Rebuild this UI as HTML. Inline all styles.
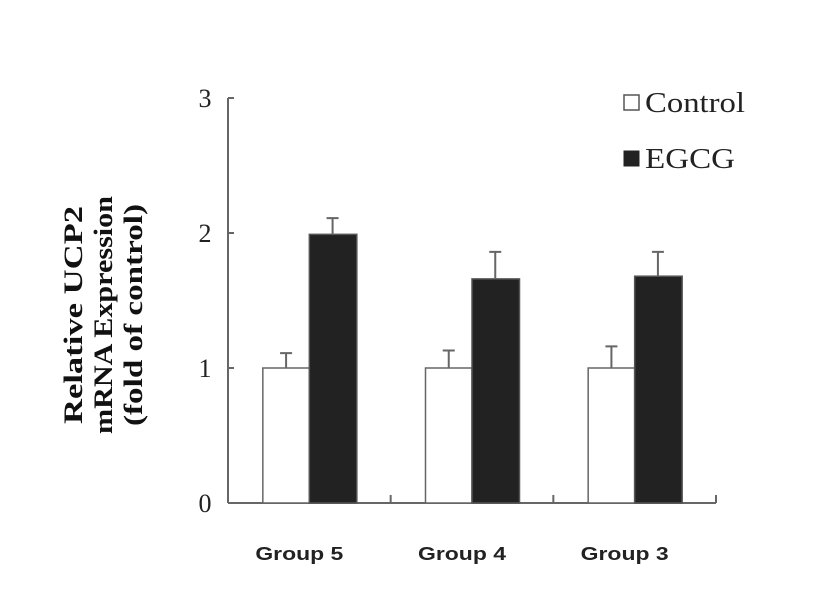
<!DOCTYPE html>
<html><head><meta charset="utf-8"><style>
body{margin:0;background:#fff}
svg{display:block}
</style></head><body>
<svg id="chart" width="816" height="600">
<g id="axes"></g><g id="bars"></g>
<g font-family="Liberation Serif, serif" font-size="28" fill="#222">
<rect x="624" y="95" width="15" height="15" fill="#fff" stroke="#555" stroke-width="1.5"/>
<text x="645" y="112" textLength="100" lengthAdjust="spacingAndGlyphs">Control</text>
<rect x="624" y="151" width="15" height="15" fill="#222" stroke="#222"/>
<text x="645" y="168" textLength="90" lengthAdjust="spacingAndGlyphs">EGCG</text>
</g>
<g font-family="Liberation Serif, serif" font-weight="bold" font-size="26" fill="#111" text-anchor="middle" transform="translate(112,315) rotate(-90)">
<text y="-30" textLength="218" lengthAdjust="spacingAndGlyphs">Relative UCP2</text>
<text y="0" textLength="238" lengthAdjust="spacingAndGlyphs">mRNA Expression</text>
<text y="30" textLength="222" lengthAdjust="spacingAndGlyphs">(fold of control)</text>
</g>
</svg>
<script>
const categories=["Group 5","Group 4","Group 3"];
const controlValues=[1,1,1];
const controlErrors=[0.11,0.13,0.16];
const egcgValues=[1.99,1.66,1.68];
const egcgErrors=[0.12,0.20,0.18];
const yTicks=[0,1,2,3];
const NS="http://www.w3.org/2000/svg";
const x0=228,x1=716,yb=503,yt=98,ymax=3;
const y=v=>yb-(v/ymax)*(yb-yt);
const groupW=(x1-x0)/categories.length;
const barW=46.5;
const cx=i=>x0+groupW*(i+0.5);
function mk(tag,attrs,parent){const e=document.createElementNS(NS,tag);for(const k in attrs)e.setAttribute(k,attrs[k]);parent.appendChild(e);return e;}
const axes=document.getElementById('axes'),bars=document.getElementById('bars');
let e=mk('line',{x1:x0,y1:yt,x2:x0,y2:yb,stroke:'#666','stroke-width':2},axes);


e=mk('line',{x1:x0,y1:yb,x2:x1,y2:yb,stroke:'#666','stroke-width':2},axes);


yTicks.forEach(t=>{
 let l=mk('line',{x1:x0,y1:y(t),x2:x0+6,y2:y(t),stroke:'#666','stroke-width':2},axes);
 
 
 let tx=mk('text',{x:205,y:y(t)+9,'font-family':'Liberation Serif, serif','font-size':26,fill:'#222','text-anchor':'middle'},axes);
 tx.textContent=t;
 
 
});
categories.forEach((c,i)=>{
 let gx=x0+groupW*(i+1);
 let l=mk('line',{x1:gx,y1:yb,x2:gx,y2:yb-8,stroke:'#666','stroke-width':2},axes);
 
 
 let c0=cx(i);
 let r=mk('rect',{x:c0-barW,y:y(controlValues[i]),width:barW,height:yb-y(controlValues[i]),fill:'#fff',stroke:'#666','stroke-width':1.5},bars);
 
 
 let ex=c0-barW/2;
 let eb=mk('path',{d:`M${ex},${y(controlValues[i])}V${y(controlValues[i]+controlErrors[i])}M${ex-6},${y(controlValues[i]+controlErrors[i])}H${ex+6}`,stroke:'#666','stroke-width':2,fill:'none'},bars);
 
 
 let r2=mk('rect',{x:c0,y:y(egcgValues[i]),width:barW+1,height:yb-y(egcgValues[i]),fill:'#222',stroke:'#555','stroke-width':1.5},bars);
 
 
 let ex2=c0+barW/2;
 let eb2=mk('path',{d:`M${ex2},${y(egcgValues[i])}V${y(egcgValues[i]+egcgErrors[i])}M${ex2-6},${y(egcgValues[i]+egcgErrors[i])}H${ex2+6}`,stroke:'#666','stroke-width':2,fill:'none'},bars);
 
 
 let tx=mk('text',{x:c0-10,y:560,'font-family':'Liberation Sans, sans-serif','font-weight':'bold','font-size':18,fill:'#222','text-anchor':'middle',textLength:88,lengthAdjust:'spacingAndGlyphs'},axes);
 tx.textContent=c;
 
 
});
</script>
</body></html>
